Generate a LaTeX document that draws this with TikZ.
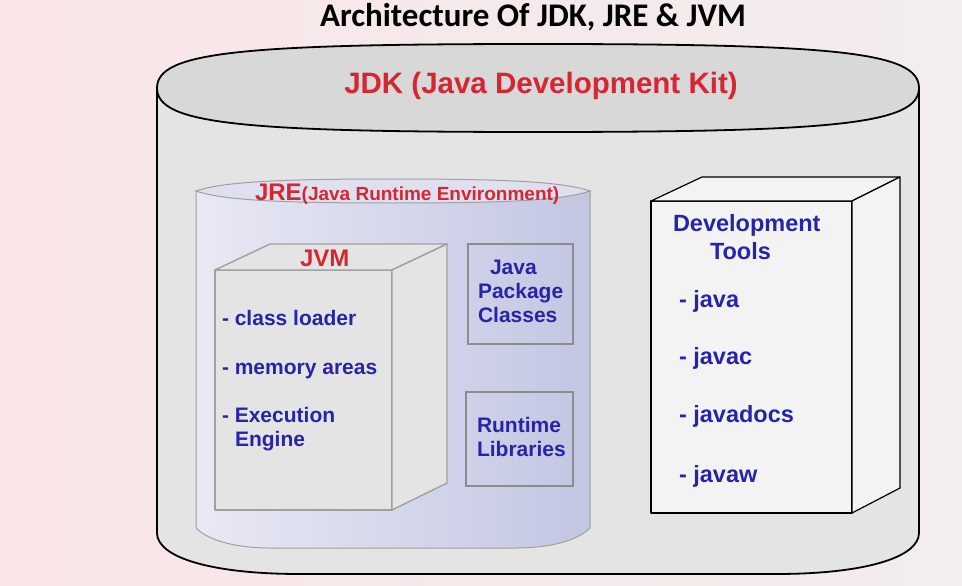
\documentclass[tikz,border=0pt]{standalone}
\usepackage{fontspec}
\setmainfont{Liberation Sans}
\newfontfamily\titlefont{Carlito}
\definecolor{bgL}{RGB}{249,229,231}
\definecolor{bgR}{RGB}{243,237,237}
\definecolor{jdkbody}{RGB}{228,228,228}
\definecolor{jdktop}{RGB}{216,216,216}
\definecolor{jreL}{RGB}{233,233,244}
\definecolor{jreM}{RGB}{214,217,236}
\definecolor{jreR}{RGB}{194,198,226}
\definecolor{jretop}{RGB}{222,224,240}
\definecolor{jvmedge}{RGB}{160,160,160}
\definecolor{boxedge}{RGB}{140,140,140}
\definecolor{devfill}{RGB}{243,243,243}
\definecolor{txtred}{RGB}{214,38,50}
\definecolor{txtblue}{RGB}{40,36,170}
\tikzset{
  lbl/.style={inner sep=0pt, outer sep=0pt, anchor=base west, font=\bfseries},
  redlbl/.style={lbl, text=txtred},
  bluelbl/.style={lbl, text=txtblue, font=\bfseries\fontsize{21}{21}\selectfont},
  devlbl/.style={lbl, text=txtblue, font=\bfseries\fontsize{23.5}{23.5}\selectfont},
  jvmface/.style={draw=jvmedge, line width=1.4pt, line join=round},
  devface/.style={draw=black, line width=1.2pt, line join=round, fill=devfill},
  flatbox/.style={draw=boxedge, line width=1.8pt}
}
\begin{document}
\begin{tikzpicture}[x=1pt,y=-1pt]
% background
\useasboundingbox (0,0) rectangle (962,586);
\fill[left color=bgL, right color=bgR] (0,0) rectangle (962,586);

% ---- JDK outer cylinder ----
\fill[jdkbody] (157,88) -- (157,533) .. controls (157,557) and (210,574) .. (300,574)
  -- (776,574) .. controls (866,574) and (919,557) .. (919,533) -- (919,88) -- cycle;
\draw[line width=1.8pt] (157,88) -- (157,533) .. controls (157,557) and (210,574) .. (300,574)
  -- (776,574) .. controls (866,574) and (919,557) .. (919,533) -- (919,88);
\draw[line width=1.8pt, fill=jdktop] (157,88) .. controls (157,52) and (240,44) .. (538,44)
  .. controls (836,44) and (919,52) .. (919,88)
  .. controls (919,124) and (836,132) .. (538,132)
  .. controls (240,132) and (157,124) .. (157,88) -- cycle;

% ---- JRE cylinder ----
\path[draw=jvmedge, line width=1pt, left color=jreL, middle color=jreM, right color=jreR]
  (196,191) -- (196,528) .. controls (210,542) and (240,548) .. (270,548)
  -- (516,548) .. controls (546,548) and (576,542) .. (590,528) -- (590,191) -- cycle;
\draw[draw=jvmedge, line width=1pt, fill=jretop] (196,191) .. controls (225,181) and (290,179) .. (393,179)
  .. controls (496,179) and (561,181) .. (590,191)
  .. controls (561,201) and (496,203) .. (393,203)
  .. controls (290,203) and (225,201) .. (196,191) -- cycle;

% ---- JVM box ----
\draw[jvmface, fill=jdkbody] (215,270) rectangle (392,510);
\draw[jvmface, fill=jdkbody] (215,270) -- (270,244) -- (447,244) -- (392,270) -- cycle;
\draw[jvmface, fill=jdkbody] (392,270) -- (447,244) -- (447,483) -- (392,510) -- cycle;

% ---- Package / Runtime boxes ----
\draw[flatbox] (468,244) rectangle (573,344);
\draw[flatbox] (466,392) rectangle (573,486);

% ---- Development tools box ----
\draw[devface] (651,201) rectangle (852,513);
\draw[devface] (651,201) -- (702,177) -- (900,177) -- (852,201) -- cycle;
\draw[devface] (852,201) -- (900,177) -- (900,488) -- (852,513) -- cycle;

% ---- texts ----
\node[inner sep=0pt, anchor=base, font=\titlefont\bfseries\fontsize{33}{33}\selectfont] (title) at (533,27) {Architecture Of JDK, JRE \& JVM};
\node[redlbl, anchor=base, font=\bfseries\fontsize{29.5}{29.5}\selectfont] (jdk) at (541,93) {JDK (Java Development Kit)};
\node[redlbl] (jre) at (255,200) {{\fontsize{24}{24}\selectfont JRE}{\fontsize{19}{19}\selectfont (Java Runtime Environment)}};
\node[redlbl, font=\bfseries\fontsize{24}{24}\selectfont] (jvm) at (300,266) {JVM};

\node[bluelbl] (cl) at (222,325) {- class loader};
\node[bluelbl] (ma) at (222,374) {- memory areas};
\node[bluelbl] (ee) at (222,422) {- Execution};
\node[bluelbl] (eng) at (235,446) {Engine};

\node[bluelbl] (jp1) at (490,274) {Java};
\node[bluelbl] (jp2) at (478,298) {Package};
\node[bluelbl] (jp3) at (478,322) {Classes};
\node[bluelbl] (rl1) at (477,432) {Runtime};
\node[bluelbl] (rl2) at (477,456) {Libraries};

\node[devlbl] (dt1) at (673,231) {Development};
\node[devlbl] (dt2) at (710,259) {Tools};
\node[devlbl] (t1) at (679,307) {- java};
\node[devlbl] (t2) at (679,364) {- javac};
\node[devlbl] (t3) at (679,422) {- javadocs};
\node[devlbl] (t4) at (679,482) {- javaw};
\end{tikzpicture}
\end{document}
